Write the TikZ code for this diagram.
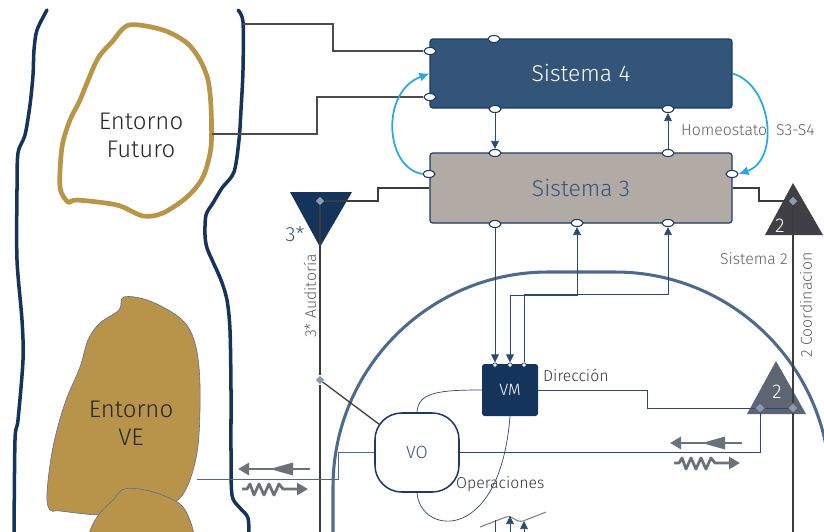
\documentclass[tikz,border=0pt]{standalone}
\usepackage{fontspec}
\setmainfont{Fira Sans Light}
\usetikzlibrary{arrows.meta,shapes.geometric}

\definecolor{navy}{HTML}{15345C}
\definecolor{boxline}{HTML}{1D3B62}
\definecolor{sysfour}{HTML}{34557A}
\definecolor{systhree}{HTML}{B1AAA5}
\definecolor{gold}{HTML}{B99548}
\definecolor{vegold}{HTML}{B8944A}
\definecolor{steel}{HTML}{4B6A8E}
\definecolor{wiregray}{HTML}{3C3C3C}
\definecolor{linknavy}{HTML}{2A4A70}
\definecolor{labelgray}{HTML}{616161}
\definecolor{tridark}{HTML}{3F3F45}
\definecolor{trigray}{HTML}{5D6573}
\definecolor{glyphgray}{HTML}{6B717B}
\definecolor{homeoblue}{HTML}{29A9E1}
\definecolor{dmdgray}{HTML}{8D9CAC}

\tikzset{
  sysbox/.style={draw=boxline, line width=1pt, rounded corners=0.8mm,
    minimum width=90.6mm, minimum height=20.7mm, font=\fontsize{19.5}{22}\selectfont},
  port/.style={ellipse, draw=boxline, fill=white, line width=0.9pt,
    minimum width=3.6mm, minimum height=2.1mm, inner sep=0pt},
  pin/.style={circle, draw=boxline, fill=white, line width=0.6pt,
    minimum size=1.3mm, inner sep=0pt},
  dmd/.style={diamond, fill=dmdgray, minimum size=2.6mm, inner sep=0pt},
  wire/.style={draw=wiregray, line width=1.1pt},
  link/.style={draw=linknavy, line width=0.6pt},
  tip/.style={-{Triangle[length=2.4mm,width=2.3mm]}},
  homeo/.style={draw=homeoblue, line width=1.5pt, -{Latex[length=3mm,width=2.8mm]}},
  rim/.style={draw=navy, line width=3pt, line cap=round},
  envtxt/.style={align=center, text=black!85, font=\fontsize{20.5}{24}\selectfont},
  lbl/.style={text=labelgray, inner sep=0pt, font=\fontsize{13.5}{15}\selectfont},
  lbltwo/.style={text=black!80, inner sep=0pt, font=\fontsize{13.5}{15}\selectfont},
  trinum/.style={text=white, inner sep=0pt, font=\fontsize{17}{19}\selectfont},
  glyph/.style={draw=glyphgray, line width=2.4pt, line join=round},
  gtip/.style={-{Triangle[length=3.3mm,width=3.6mm]}}
}

\begin{document}
\begin{tikzpicture}[x=0.3mm, y=-0.3mm]
  \useasboundingbox (0,0) rectangle (824,531);
  \clip (0,0) rectangle (824,531);

  % area of operations
  \draw[draw=steel, line width=2.6pt, rounded corners=64.5mm] (333,560) |- (830,272) -- (830,560);

  % environment
  \draw[rim] plot[smooth] coordinates {(47,10) (37,30) (34,50) (33,75) (30,105) (25,135) (18,153) (17,190) (17,260) (22,320) (23,360) (18,420) (15,440) (14,540)};
  \draw[rim] plot[smooth] coordinates {(238,10) (243,22) (243,70) (241,110) (239,140) (234,172) (222,188) (213,203) (206,215) (205,235) (207,248) (213,262) (221,280) (227,300) (230,330) (231,390) (231,450) (232,495) (240,508) (248,518) (249,540)};
  \draw[draw=gold, line width=4pt, line join=round] plot[smooth cycle, tension=0.5] coordinates {(129,25) (163,30) (187,43) (200,60) (208,80) (211,107) (211,147) (203,177) (187,197) (163,213) (143,216) (117,205) (77,200) (68,202) (60,187) (62,147) (70,120) (80,100) (97,60) (112,42)};
  \filldraw[fill=vegold, draw=gray!80!blue, line width=0.5pt] plot[smooth cycle, tension=0.6] coordinates {(124,297) (150,301) (180,318) (193,337) (199,367) (200,410) (197,453) (187,487) (173,503) (140,512) (100,515) (60,511) (50,510) (47,493) (53,447) (65,403) (80,367) (88,340) (100,323) (119,310)};
  \filldraw[fill=vegold, draw=gray!80!blue, line width=0.5pt] plot[smooth cycle, tension=0.6] coordinates {(124,489) (145,490) (167,497) (183,507) (193,530) (196,560) (140,580) (85,560) (90,531) (100,513) (113,500)};
  \node[envtxt] (fut) at (141,135) {Entorno\\Futuro};
  \node[envtxt] (ve) at (131,423) {Entorno\\VE};

  % systems 4 and 3
  \node[sysbox, fill=sysfour, text=white] (s4) at (581,73.5) {Sistema 4};
  \node[sysbox, fill=systhree, text=sysfour, minimum height=21mm] (s3) at (581,188) {Sistema 3};
  \foreach \n/\x/\y in {p4t/494/39, p4l/430/51, p4m/430/97, p4b/495/109, p4c/668/109,
      p3t/495/153, p3u/668/153, p3l/429/174, p3r/732/174, p3a/495/224, p3b/577/223, p3c/668/223}
    \node[port] (\n) at (\x,\y) {};

  \coordinate (rimA) at (243,24);
  \coordinate (futE) at (212,134);
  \draw[wire, draw=black!70] (rimA) -- (333,24) |- (p4l);
  \draw[wire, draw=black!70] (futE) -- (317,134) |- (p4m);
  \draw[link, tip] (p4b) -- (p3t);
  \draw[link, tip] (p3u) -- (p4c);

  \node[lbl, anchor=west] (homeolbl) at (681,130) {Homeostato\ \ S3-S4};
  \draw[homeo] (p3l.west) .. controls (385,168) and (380,92) .. (s4.west);
  \draw[homeo] (s4.east) .. controls (772,85) and (780,160) .. (p3r.east);

  % 3* audit
  \fill[navy] (290,192) -- (352,192) -- (320,247) -- cycle;
  \node[text=sysfour, inner sep=0pt, font=\fontsize{17.5}{19}\selectfont] (t3) at (295,234) {3*};
  \node[lbl, rotate=90] (aud) at (310,296) {3* Auditoría};
  \node[dmd] (d3) at (320,201) {};
  \node[dmd] (d3b) at (320,380) {};
  \coordinate (audB) at (320,540);
  \draw[wire] (s3.west) -- (378,188) |- (d3);
  \draw[wire] (d3) -- (d3b) -- (audB);

  % system 2
  \fill[tridark] (793,183) -- (765,235) -- (823,235) -- cycle;
  \fill[trigray] (776,361) -- (747,414) -- (806,414) -- cycle;
  \node[trinum] (n2t) at (780,226) {2};
  \node[trinum] (n2b) at (777,392) {2};
  \node[dmd] (d2t) at (793,201) {};
  \node[dmd] (d2a) at (760,408) {};
  \node[dmd] (d2b) at (793,408) {};
  \coordinate (coorB) at (793,540);
  \draw[wire] (s3.east) -- (759,188) |- (d2t);
  \draw[wire] (d2t) -- (d2b) -- (coorB);
  \draw[link] (d2a) -- (d2b);
  \node[lbl, anchor=east] (s2lbl) at (788,259) {Sistema 2};
  \node[lbl, rotate=90] (coor) at (806,305) {2 Coordinacion};

  % VM and VO
  \node[fill=navy, rounded corners=0.8mm, minimum width=16.8mm, minimum height=15.6mm,
    text=white, font=\fontsize{14}{16}\selectfont] (vm) at (510,390) {VM};
  \node[draw=boxline, line width=1.3pt, fill=white, rounded corners=8mm, minimum width=25.2mm,
    minimum height=23.7mm, text=sysfour, font=\fontsize{15}{17}\selectfont] (vo) at (417,452.5) {VO};
  \foreach \n/\x in {v1/495, v2/510, v3/524}
    \node[pin] (\n) at (\x,365) {};
  \node[lbltwo, anchor=west] (dir) at (543,375) {Dirección};
  \node[lbltwo, anchor=west] (ops) at (456,484) {Operaciones};

  \draw[link, tip] (p3a) -- (v1);
  \draw[link, {Triangle[length=2.4mm,width=2.3mm]}-{Triangle[length=2.4mm,width=2.3mm]}] (p3b) -- (577,295) -| (v2);
  \draw[link, {Triangle[length=2.4mm,width=2.3mm]}-] (p3c) -- (668,294) -| (v3);
  \draw[link] (vm.east) -- (647,390) |- (d2a);
  \draw[link] (d2a) |- (vo.east);
  \draw[link] (vo.north) .. controls (418,392) and (440,390) .. (vm.west);
  \draw[link] (vo.south) .. controls (420,535) and (500,545) .. (vm.south);
  \coordinate (veE) at (197,479);
  \draw[draw=steel, line width=0.7pt] (vo.west) -- (338,452.5) |- (veE);
  \draw[wire, shorten >=-2.2mm] (d3b) -- (vo);

  % flows
  \foreach \gx/\gy in {238/469, 670/443}
  {
    \draw[glyph, gtip] (\gx+72,\gy) -- (\gx,\gy);
    \fill[glyphgray] (\gx+32,\gy) -- (\gx+55,\gy-6.5) -- (\gx+55,\gy+6.5) -- cycle;
    \draw[glyph, gtip] (\gx+4,\gy+20) -- ++(5,0) -- ++(3,-5) -- ++(4,11) -- ++(5,-11) -- ++(5,11)
      -- ++(5,-11) -- ++(5,11) -- ++(5,-11) -- ++(4,5) -- (\gx+70,\gy+20);
  }

  % below
  \draw[draw=gray, line width=0.9pt] (480,527) -- (506,517) .. controls (512,514) and (515,523) .. (523,521) -- (546,512);
  \coordinate (b1) at (495,540);
  \coordinate (b2) at (510,540);
  \coordinate (b3) at (524,540);
  \draw[link] (b1) -- (495,520);
  \draw[link, tip] (b2) -- (510,516);
  \draw[link, tip] (b3) -- (524,521);
\end{tikzpicture}
\end{document}
